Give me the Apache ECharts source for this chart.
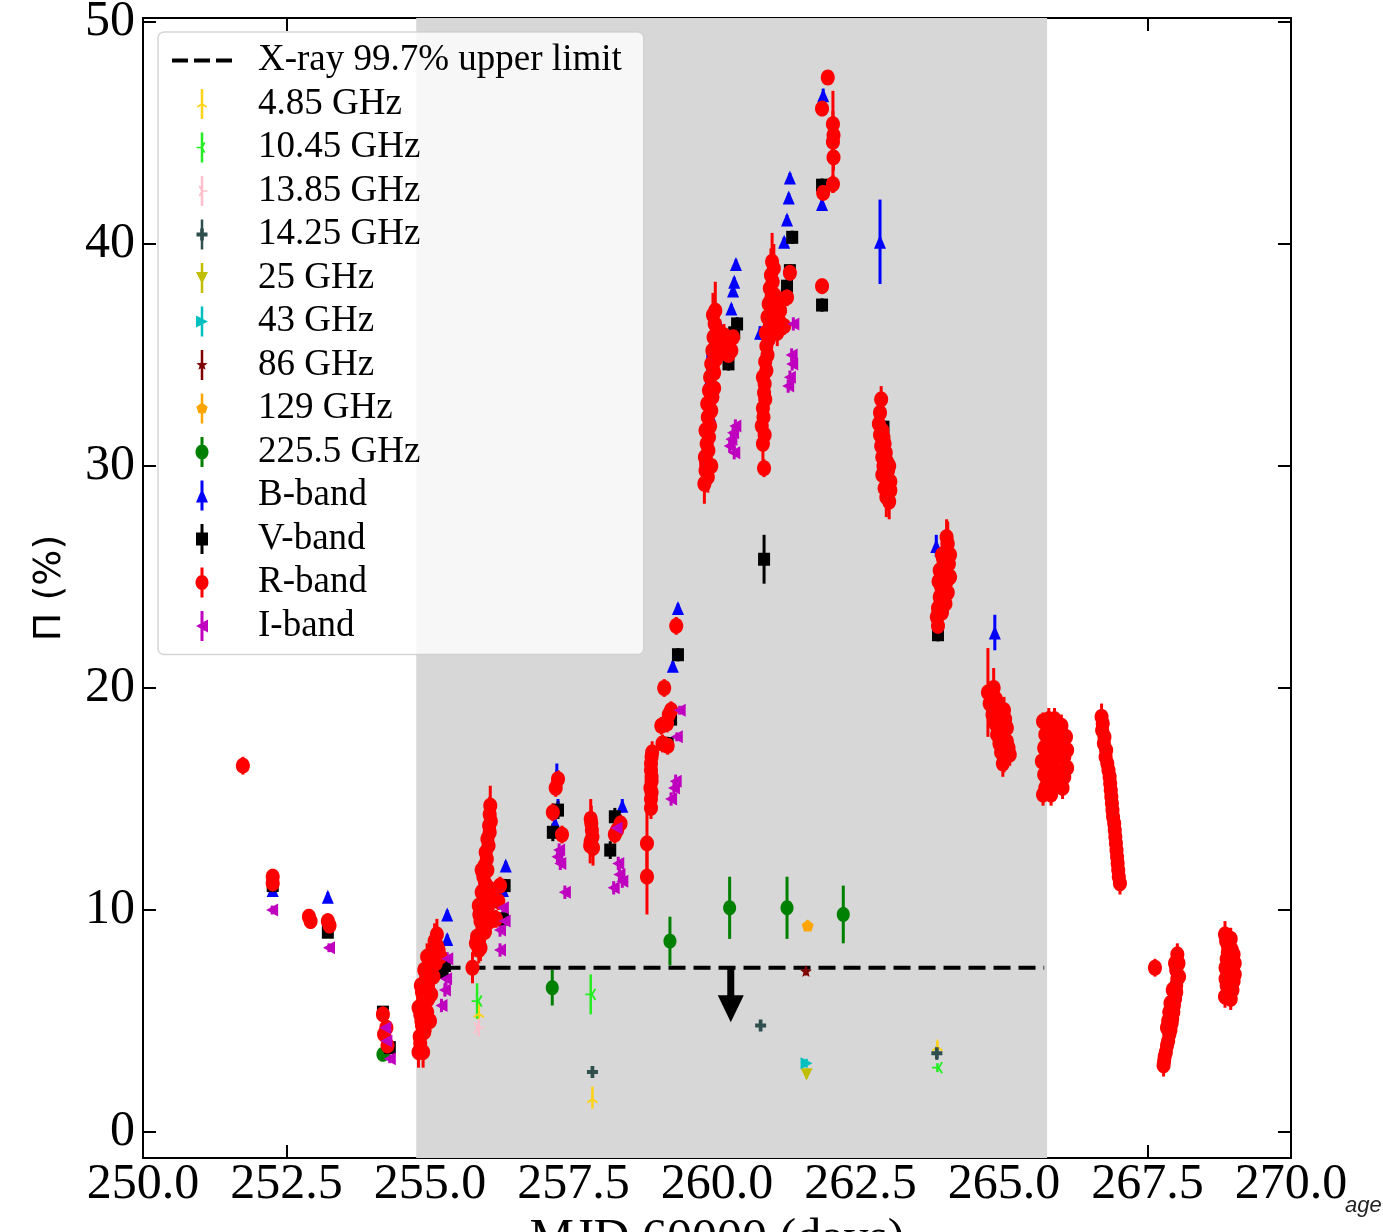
<!DOCTYPE html>
<html>
<head>
<meta charset="utf-8">
<title>Polarization degree vs MJD</title>
<script src="https://cdn.jsdelivr.net/npm/echarts@6/dist/echarts.min.js"></script>
<style>
  html, body { margin: 0; padding: 0; background: #fff; }
  #chart { width: 1383px; height: 1232px; }
  .note { position: absolute; left: 1345px; top: 1192px; font: italic 22px 'Liberation Sans', sans-serif; color: #222; }
</style>
</head>
<body>
<div id="chart"></div>
<div class="note">age</div>
<script>
// every point is [MJD - 60000, polarization (%), error]
const yTicks = [0, 10, 20, 30, 40, 50]

const xrayLimit = [[254.8, 7.4, 265.7]]      // [from, level, to]
const xrayArrow = [[260.24, 7.4, 4.95]]      // [x, from, tip]
const activeWindow = [[254.76, 265.75]]      // shaded interval

const ghz4p85 = [[255.85, 5.4, 0.4], [257.83, 1.55, 0.5], [263.84, 3.9, 0.2]]
const ghz10p45 = [[255.82, 5.9, 0.8], [257.8, 6.2, 0.9], [263.84, 2.9, 0.2]]
const ghz13p85 = [[255.85, 4.7, 0.4]]
const ghz14p25 = [[257.83, 2.7, 0.2], [260.76, 4.8, 0.2], [263.83, 3.55, 0.3]]
const ghz25 = [[261.56, 2.6, 0.2]]
const ghz43 = [[261.56, 3.1, 0.2]]
const ghz86 = [[261.55, 7.25, 0.2]]
const ghz129 = [[261.58, 9.3, 0.2]]
const ghz225p5 = [[254.18, 3.5, 0.2], [257.13, 6.5, 0.8], [259.18, 8.6, 1.1], [260.22, 10.1, 1.4], [261.22, 10.1, 1.4], [262.2, 9.8, 1.3]]

const bBand = [
  [252.26, 10.9, 0.2], [253.22, 10.6, 0.2],
  [255.3, 8.7, 0.2], [255.3, 9.8, 0.2],
  [256.32, 12.0, 0.2], [256.27, 10.9, 0.2],
  [257.21, 16.1, 0.5], [257.23, 14.6, 0.4], [257.18, 13.9, 0.3],
  [258.35, 14.7, 0.3],
  [259.32, 23.6, 0.2], [259.23, 21.0, 0.2],
  [259.84, 33.7, 1.5], [259.88, 32.3, 0.3], [260.05, 36.3, 0.2], [260.25, 37.1, 0.2], [260.28, 37.9, 0.2], [260.3, 38.3, 0.2], [260.33, 39.1, 0.2],
  [260.75, 36.0, 0.3],
  [261.17, 40.1, 0.2], [261.22, 41.1, 0.2], [261.25, 42.1, 0.2], [261.27, 43.0, 0.2],
  [261.85, 46.7, 0.3], [261.83, 41.8, 0.3],
  [262.84, 40.1, 1.9],
  [263.82, 26.4, 0.5],
  [264.84, 22.5, 0.8]
]

const vBand = [
  [252.26, 11.1, 0.2], [253.22, 9.0, 0.2], [254.18, 5.4, 0.2], [254.3, 3.8, 0.2],
  [255.26, 7.5, 0.3], [255.22, 7.2, 0.3],
  [256.3, 11.1, 0.3], [256.27, 9.6, 0.3],
  [257.23, 14.5, 0.4], [257.14, 13.5, 0.4],
  [258.22, 14.2, 0.4], [258.14, 12.7, 0.4],
  [259.32, 21.5, 0.3], [259.2, 18.6, 0.3], [259.14, 17.5, 0.3],
  [260.35, 36.4, 0.3], [260.3, 36.0, 0.3], [260.2, 34.6, 0.3],
  [260.82, 25.8, 1.1],
  [261.31, 40.3, 0.3], [261.27, 38.8, 0.3], [261.22, 38.1, 0.3],
  [261.83, 37.25, 0.3], [261.83, 42.65, 0.3],
  [262.9, 31.75, 0.3],
  [263.85, 22.4, 0.3]
]

const rBand = [
  [251.74, 16.5, 0.4],
  [252.26, 11.5, 0.3], [252.26, 11.2, 0.3],
  [252.89, 9.7, 0.3], [252.92, 9.5, 0.3],
  [253.22, 9.5, 0.3], [253.25, 9.3, 0.3],
  [254.18, 5.3, 0.3], [254.2, 4.4, 0.3], [254.24, 4.7, 0.3], [254.26, 3.9, 0.3],
  // 254.8 - 255.2
  [254.8, 3.6, 0.7], [254.88, 3.6, 0.7], [254.83, 4.0, 0.6], [254.82, 4.3, 0.6], [254.9, 4.5, 0.6], [254.86, 4.8, 0.6],
  [254.85, 5.0, 0.6], [254.83, 5.3, 0.6], [254.8, 5.6, 0.6], [254.9, 5.7, 0.6], [254.95, 5.4, 0.6], [254.88, 6.0, 0.6],
  [255.0, 5.0, 0.5], [254.97, 6.0, 0.5], [254.86, 6.3, 0.6], [254.95, 6.4, 0.6], [254.84, 6.6, 0.6], [254.92, 6.8, 0.6],
  [255.02, 6.2, 0.5], [254.9, 7.3, 0.6], [254.98, 7.3, 0.6], [255.06, 7.0, 0.6], [255.04, 7.5, 0.6], [255.0, 7.8, 0.6],
  [254.95, 7.9, 0.6], [255.1, 7.6, 0.6], [255.05, 8.2, 0.7], [255.15, 8.2, 0.6], [255.18, 7.9, 0.5], [255.12, 8.4, 0.6],
  [255.08, 8.6, 0.8], [255.12, 8.9, 0.7],
  // 255.7 - 256.3
  [255.74, 7.4, 0.7],
  [255.85, 8.2, 0.6], [255.88, 8.3, 0.6], [255.8, 8.5, 0.6], [255.82, 8.8, 0.6], [255.95, 9.0, 0.6], [255.92, 9.2, 0.6],
  [255.88, 9.5, 0.7], [256.05, 9.5, 0.6], [255.86, 9.8, 0.6], [256.0, 10.0, 0.6], [255.85, 10.2, 0.6], [255.98, 10.4, 0.6],
  [256.1, 10.5, 0.5], [255.9, 10.8, 0.7], [256.02, 11.0, 0.6], [255.96, 11.2, 0.6], [255.93, 11.5, 0.7], [255.9, 11.8, 0.5],
  [256.0, 11.8, 0.6], [255.95, 12.0, 0.6], [255.99, 12.3, 0.6], [255.97, 12.6, 0.7], [256.02, 12.9, 0.7], [256.0, 13.2, 0.7],
  [256.04, 13.5, 0.7], [256.03, 13.8, 0.7], [256.06, 14.0, 0.7], [256.04, 14.3, 0.8], [256.05, 14.7, 0.9],
  [256.15, 9.6, 0.4], [256.19, 10.4, 0.4], [256.22, 11.1, 0.4],
  // 257.2 - 258.3
  [257.23, 15.9, 0.4], [257.19, 15.5, 0.4], [257.14, 14.4, 0.4], [257.3, 13.4, 0.4],
  [257.8, 14.1, 0.9], [257.81, 13.9, 0.8], [257.82, 13.6, 0.8], [257.83, 13.3, 0.8], [257.8, 13.1, 0.7], [257.79, 12.9, 0.8],
  [257.84, 12.8, 0.8],
  [258.22, 13.4, 0.4], [258.26, 13.6, 0.4], [258.32, 13.9, 0.4],
  // 258.8 - 259.3
  [258.78, 13.0, 1.8], [258.78, 11.5, 1.7],
  [258.85, 14.6, 0.5], [258.85, 15.0, 0.5], [258.86, 15.3, 0.5], [258.84, 15.5, 0.5], [258.86, 15.8, 0.5], [258.86, 16.0, 0.5],
  [258.85, 16.3, 0.5], [258.85, 16.6, 0.5], [258.86, 16.9, 0.5], [258.87, 17.1, 0.5],
  [259.03, 18.3, 0.4], [259.05, 17.5, 0.4], [259.08, 20.0, 0.4], [259.13, 18.4, 0.4], [259.14, 17.4, 0.4], [259.16, 18.8, 0.4],
  [259.2, 19.0, 0.4], [259.29, 22.8, 0.4],
  // 259.8 - 260.3
  [259.78, 29.2, 0.9], [259.84, 29.5, 0.7], [259.8, 29.8, 0.7], [259.81, 30.1, 0.7], [259.79, 30.4, 0.8], [259.9, 30.0, 0.7],
  [259.85, 30.7, 0.7], [259.82, 31.0, 0.8], [259.86, 31.3, 0.6], [259.8, 31.6, 0.7], [259.88, 31.8, 0.7], [259.84, 32.2, 0.8],
  [259.9, 32.5, 0.7], [259.83, 32.8, 0.7], [259.92, 33.1, 0.7], [259.86, 33.4, 0.8], [259.95, 33.5, 0.6], [259.88, 34.0, 0.8],
  [259.95, 34.2, 0.8], [259.9, 34.6, 0.9], [259.98, 34.8, 0.8], [260.02, 35.0, 0.6], [259.92, 35.2, 0.9], [260.0, 35.5, 0.8],
  [259.94, 35.8, 1.0], [260.08, 35.6, 0.6], [260.05, 36.0, 0.6], [260.0, 36.1, 0.9], [260.12, 35.9, 0.5], [260.15, 35.4, 0.5],
  [260.2, 35.0, 0.5], [260.25, 35.2, 0.4], [260.28, 35.8, 0.4], [259.96, 36.4, 1.2], [259.93, 36.8, 1.0], [259.97, 37.0, 1.3],
  // 260.7 - 261.3
  [260.82, 29.9, 0.4],
  [260.8, 31.0, 0.8], [260.83, 31.4, 0.7], [260.78, 31.8, 0.8], [260.81, 32.2, 0.7], [260.8, 32.6, 0.7], [260.84, 33.0, 0.7],
  [260.82, 33.3, 0.8], [260.83, 33.7, 0.7], [260.8, 34.0, 0.7], [260.86, 34.3, 0.7], [260.84, 34.7, 0.8], [260.88, 35.0, 0.6],
  [260.86, 35.4, 0.8], [260.9, 35.7, 0.8], [260.85, 36.0, 0.9], [261.05, 36.0, 0.6], [260.92, 36.3, 0.8], [260.98, 36.5, 0.6],
  [261.08, 36.5, 0.5], [260.88, 36.7, 0.8], [261.1, 37.0, 0.5], [261.02, 37.2, 0.6], [260.9, 37.3, 0.9], [261.14, 37.5, 0.5],
  [260.95, 37.6, 0.9], [261.0, 37.7, 0.6], [260.92, 38.0, 1.0], [260.97, 38.3, 1.0], [260.94, 38.6, 1.2], [260.99, 38.9, 1.1],
  [260.96, 39.2, 1.3],
  [261.17, 36.3, 0.4], [261.22, 37.6, 0.4], [261.27, 38.7, 0.4],
  // 261.8 - 262.0
  [261.83, 38.1, 0.3], [261.85, 42.3, 0.3], [262.02, 42.7, 0.4], [262.03, 43.9, 0.6], [262.02, 44.6, 2.3], [262.03, 44.9, 0.6],
  [262.02, 45.4, 0.6], [261.83, 46.1, 0.3], [261.93, 47.5, 0.3],
  // 262.8 - 263.1
  [262.86, 33.0, 0.6], [262.84, 32.4, 0.6], [262.82, 31.9, 0.6], [262.88, 31.6, 0.6], [262.84, 31.4, 0.6], [262.9, 31.3, 0.6],
  [262.86, 30.9, 0.6], [262.92, 31.0, 0.5], [262.94, 30.6, 0.6], [262.88, 30.4, 0.6], [262.96, 30.2, 0.5], [263.0, 30.0, 0.6],
  [262.9, 30.0, 0.7], [262.98, 29.8, 0.7], [262.88, 29.6, 0.7], [262.93, 29.6, 0.7], [263.02, 29.3, 0.6], [262.96, 29.2, 0.7],
  [262.92, 29.0, 0.8], [263.02, 28.9, 0.8], [262.98, 28.8, 0.8], [262.95, 28.6, 0.9], [263.0, 28.4, 0.8],
  // 263.8 - 264.1
  [263.85, 22.8, 0.3], [263.83, 23.2, 0.4], [263.92, 23.4, 0.5], [263.85, 23.6, 0.5], [263.98, 23.8, 0.5], [263.9, 23.9, 0.5],
  [263.88, 24.1, 0.5], [263.95, 24.3, 0.5], [264.02, 24.3, 0.5], [263.9, 24.6, 0.6], [264.0, 24.8, 0.6], [263.86, 24.8, 0.5],
  [264.06, 25.0, 0.6], [263.93, 25.1, 0.6], [263.88, 25.3, 0.5], [263.98, 25.3, 0.6], [263.96, 25.6, 0.7], [264.04, 25.6, 0.6],
  [263.94, 25.8, 0.6], [263.92, 26.0, 0.6], [264.06, 26.0, 0.7], [264.0, 26.1, 0.8], [264.02, 26.5, 1.0], [264.0, 26.8, 0.8],
  // 264.7 - 265.1
  [264.72, 19.8, 2.0], [264.82, 20.0, 0.9], [264.78, 19.6, 0.7], [264.86, 19.5, 0.7], [264.75, 19.3, 0.8], [264.9, 19.2, 0.6],
  [264.84, 19.0, 0.7], [265.0, 19.0, 0.6], [264.8, 18.8, 0.8], [264.95, 18.8, 0.6], [265.02, 18.6, 0.5], [264.9, 18.6, 0.6],
  [264.85, 18.4, 0.7], [264.95, 18.2, 0.6], [265.05, 18.2, 0.6], [264.88, 17.9, 0.7], [264.92, 17.8, 0.6], [265.05, 17.6, 0.6],
  [264.92, 17.5, 0.6], [265.0, 17.4, 0.6], [265.08, 17.3, 0.5], [264.95, 17.1, 0.6], [265.1, 17.0, 0.5], [265.04, 16.9, 0.5],
  [265.0, 16.8, 0.6], [264.98, 16.6, 0.6],
  // 265.7 - 266.1
  [265.78, 18.6, 0.5], [265.88, 18.6, 0.5], [265.68, 18.5, 0.4], [265.95, 18.3, 0.5], [266.0, 18.3, 0.5], [265.8, 18.0, 0.5],
  [265.85, 18.0, 0.5], [265.72, 17.9, 0.5], [266.08, 17.8, 0.5], [266.0, 17.6, 0.5], [265.78, 17.5, 0.5], [265.85, 17.4, 0.5],
  [265.7, 17.3, 0.5], [266.1, 17.2, 0.5], [265.75, 17.0, 0.5], [265.95, 17.0, 0.5], [266.05, 16.9, 0.5], [265.9, 16.8, 0.5],
  [265.66, 16.7, 0.5], [265.82, 16.5, 0.5], [266.1, 16.4, 0.5], [265.95, 16.2, 0.5], [265.88, 16.2, 0.5], [265.7, 16.1, 0.5],
  [266.05, 16.0, 0.5], [265.92, 15.9, 0.5], [265.76, 15.8, 0.5], [265.88, 15.6, 0.5], [265.72, 15.5, 0.5], [266.02, 15.5, 0.5],
  [265.82, 15.2, 0.5], [265.68, 15.2, 0.5],
  // 266.7 - 267.0
  [266.7, 18.7, 0.6], [266.72, 18.4, 0.5], [266.71, 18.1, 0.5], [266.75, 17.8, 0.5], [266.74, 17.5, 0.5], [266.78, 17.2, 0.5],
  [266.77, 16.9, 0.5], [266.8, 16.6, 0.5], [266.82, 16.3, 0.5], [266.84, 16.0, 0.5], [266.85, 15.7, 0.5], [266.86, 15.4, 0.5],
  [266.87, 15.1, 0.5], [266.88, 14.8, 0.5], [266.89, 14.5, 0.5], [266.9, 14.2, 0.5], [266.92, 13.9, 0.5], [266.93, 13.6, 0.5],
  [266.94, 13.3, 0.5], [266.95, 13.0, 0.5], [266.96, 12.7, 0.5], [266.97, 12.4, 0.5], [266.98, 12.1, 0.5], [266.99, 11.8, 0.5],
  [267.0, 11.5, 0.5], [267.02, 11.2, 0.5],
  // 267.6 - 268.1
  [267.63, 7.4, 0.4],
  [268.02, 8.0, 0.5], [267.98, 7.6, 0.5], [268.04, 7.6, 0.5], [268.0, 7.3, 0.5], [268.05, 7.0, 0.5], [268.02, 6.9, 0.5],
  [268.0, 6.6, 0.5], [267.94, 6.4, 0.5], [268.0, 6.3, 0.5], [267.98, 6.0, 0.5], [267.9, 5.8, 0.5], [267.96, 5.7, 0.5],
  [267.95, 5.4, 0.5], [267.88, 5.4, 0.5], [267.93, 5.1, 0.5], [267.86, 5.0, 0.5], [267.92, 4.9, 0.5], [267.84, 4.7, 0.5],
  [267.9, 4.6, 0.5], [267.88, 4.4, 0.5], [267.86, 4.1, 0.5], [267.84, 3.9, 0.5], [267.82, 3.6, 0.5], [267.8, 3.4, 0.5],
  [267.79, 3.2, 0.5], [267.78, 3.0, 0.5],
  // 268.8 - 269.1
  [268.85, 8.9, 0.6], [268.95, 8.7, 0.5], [268.87, 8.6, 0.5], [268.9, 8.4, 0.5], [268.97, 8.2, 0.5], [268.9, 8.1, 0.5],
  [269.0, 8.0, 0.5], [268.88, 7.8, 0.5], [268.95, 7.6, 0.5], [269.02, 7.6, 0.5], [268.86, 7.4, 0.5], [268.92, 7.2, 0.5],
  [269.02, 7.1, 0.5], [268.9, 6.9, 0.5], [268.86, 6.9, 0.5], [269.0, 6.8, 0.5], [268.88, 6.6, 0.5], [268.98, 6.4, 0.5],
  [268.92, 6.3, 0.5], [268.85, 6.1, 0.5], [268.95, 6.0, 0.5]
]

const iBand = [
  [252.25, 10.0, 0.2], [253.24, 8.3, 0.2],
  [254.22, 4.7, 0.2], [254.24, 4.1, 0.2], [254.3, 3.3, 0.2],
  [255.3, 7.8, 0.3], [255.28, 6.9, 0.3], [255.26, 6.4, 0.3], [255.2, 5.7, 0.3],
  [256.27, 10.1, 0.3], [256.3, 9.5, 0.3], [256.22, 9.1, 0.3], [256.22, 8.2, 0.3],
  [257.25, 12.7, 0.3], [257.22, 12.4, 0.3], [257.27, 12.1, 0.3], [257.35, 10.8, 0.3],
  [258.25, 13.7, 0.3], [258.28, 12.1, 0.3], [258.3, 11.6, 0.3], [258.35, 11.3, 0.3], [258.2, 11.0, 0.3],
  [259.35, 19.0, 0.2], [259.3, 17.8, 0.2], [259.28, 15.8, 0.3], [259.25, 15.5, 0.3], [259.2, 15.0, 0.3],
  [260.32, 31.8, 0.3], [260.28, 31.5, 0.3], [260.25, 31.2, 0.3], [260.22, 30.9, 0.3], [260.3, 30.6, 0.3],
  [261.33, 36.4, 0.3], [261.3, 35.0, 0.3], [261.31, 34.6, 0.3], [261.27, 34.0, 0.3], [261.24, 33.6, 0.3]
]

// marker outlines in a unit box, y pointing down
function shapePolys(kind) {
  const polys = []
  if (kind === 'o') {
    const pts = []
    for (let k = 0; k < 32; k++) {
      const a = 2 * Math.PI * k / 32
      pts.push([Math.cos(a), Math.sin(a)])
    }
    polys.push(pts)
  } else if (kind === 's') {
    polys.push([[-1, -1], [1, -1], [1, 1], [-1, 1]])
  } else if (kind === '^') {
    polys.push([[0, -1], [1, 1], [-1, 1]])
  } else if (kind === 'v') {
    polys.push([[-1, -1], [1, -1], [0, 1]])
  } else if (kind === '<') {
    polys.push([[-1, 0], [1, -1], [1, 1]])
  } else if (kind === '>') {
    polys.push([[1, 0], [-1, 1], [-1, -1]])
  } else if (kind === 'p') {
    const pts = []
    for (let k = 0; k < 5; k++) {
      const a = (-90 + 72 * k) * Math.PI / 180
      pts.push([Math.cos(a), Math.sin(a)])
    }
    polys.push(pts)
  } else if (kind === '*') {
    const pts = []
    for (let k = 0; k < 10; k++) {
      const a = (-90 + 36 * k) * Math.PI / 180
      const r = k % 2 ? 0.42 : 1
      pts.push([r * Math.cos(a), r * Math.sin(a)])
    }
    polys.push(pts)
  } else if (kind === 'P') {
    const t = 0.34
    polys.push([[-t, -1], [t, -1], [t, -t], [1, -t], [1, t], [t, t], [t, 1], [-t, 1], [-t, t], [-1, t], [-1, -t], [-t, -t]])
  } else {
    const dirs = {
      '1': [[0, 1], [-0.866, -0.5], [0.866, -0.5]],
      '2': [[0, -1], [-0.866, 0.5], [0.866, 0.5]],
      '3': [[-1, 0], [0.5, -0.866], [0.5, 0.866]],
      '4': [[1, 0], [-0.5, -0.866], [-0.5, 0.866]]
    }[kind]
    const t = 0.14
    dirs.forEach(d => {
      const n = [-d[1] * t, d[0] * t]
      polys.push([[-n[0], -n[1]], [d[0] - n[0], d[1] - n[1]], [d[0] + n[0], d[1] + n[1]], [n[0], n[1]]])
    })
  }
  return polys
}

function polysToPath(polys, cx, cy, rx, ry) {
  return polys.map(pts => 'M' + pts.map(p => (cx + p[0] * rx).toFixed(2) + ',' + (cy + p[1] * ry).toFixed(2)).join(' L') + ' Z').join(' ')
}

// legend icon box is 85 x 30, marker column at x = 34
const ICON_W = 85, ICON_H = 30, ICON_CX = 34
const anchorPath = 'M0,0 h0.01 v0.01 h-0.01 Z M' + (ICON_W - 0.01) + ',' + (ICON_H - 0.01) + ' h0.01 v0.01 h-0.01 Z '

function legendIcon(b) {
  const bar = `M${ICON_CX - b.bar / 2},0 h${b.bar} v${ICON_H} h${-b.bar} Z `
  const s = b.legendSize || b.size
  return 'path://' + anchorPath + bar + polysToPath(shapePolys(b.marker), ICON_CX, ICON_H / 2, s[0] / 2, s[1] / 2)
}

const dashIcon = 'path://' + anchorPath + 'M4,13 h16 v4 h-16 Z M26,13 h16 v4 h-16 Z M48,13 h16 v4 h-16 Z'

const bands = [
  { name: '4.85 GHz', data: ghz4p85, color: '#ffd21a', marker: '2', size: [11, 12], bar: 2.5 },
  { name: '10.45 GHz', data: ghz10p45, color: '#22ee22', marker: '3', size: [11, 12], bar: 2.5 },
  { name: '13.85 GHz', data: ghz13p85, color: '#ffc0cb', marker: '4', size: [11, 12], bar: 2.5 },
  { name: '14.25 GHz', data: ghz14p25, color: '#2f4f4f', marker: 'P', size: [11, 12], bar: 2.5 },
  { name: '25 GHz', data: ghz25, color: '#bfbf00', marker: 'v', size: [12, 12], bar: 2.5 },
  { name: '43 GHz', data: ghz43, color: '#00bfbf', marker: '>', size: [12, 12], bar: 2.5 },
  { name: '86 GHz', data: ghz86, color: '#800000', marker: '*', size: [12, 12], bar: 2.5 },
  { name: '129 GHz', data: ghz129, color: '#ffa500', marker: 'p', size: [12, 12], bar: 2.5 },
  { name: '225.5 GHz', data: ghz225p5, color: '#008000', marker: 'o', size: [13, 15], bar: 3 },
  { name: 'B-band', data: bBand, color: '#0000ff', marker: '^', size: [12, 14], bar: 3 },
  { name: 'V-band', data: vBand, color: '#000000', marker: 's', size: [12, 13], bar: 3 },
  { name: 'R-band', data: rBand, color: '#ff0000', marker: 'o', size: [14, 16], legendSize: [13, 15], bar: 3 },
  { name: 'I-band', data: iBand, color: '#bf00bf', marker: '<', size: [12, 13], bar: 3 }
]

const chart = echarts.init(document.getElementById('chart'), null, { renderer: 'canvas' })

const series = []

// shaded interval
series.push({
  type: 'custom',
  name: 'window',
  silent: true,
  data: activeWindow.map(w => [w[0], w[1], 0]),
  encode: { x: [0, 1], y: 2 },
  renderItem: (params, api) => {
    const cs = params.coordSys
    const a = api.coord([api.value(0), 0])[0]
    const b = api.coord([api.value(1), 0])[0]
    return { type: 'rect', shape: { x: a, y: cs.y, width: b - a, height: cs.height }, style: { fill: '#d7d7d7' } }
  }
})

// x-ray upper limit (dashed)
series.push({
  type: 'custom',
  name: 'X-ray 99.7% upper limit',
  silent: true,
  itemStyle: { color: '#000' },
  data: xrayLimit,
  encode: { x: [0, 2], y: 1 },
  renderItem: (params, api) => {
    const p1 = api.coord([api.value(0), api.value(1)])
    const p2 = api.coord([api.value(2), api.value(1)])
    return { type: 'line', shape: { x1: p1[0], y1: p1[1], x2: p2[0], y2: p2[1] }, style: { stroke: '#000', lineWidth: 4, lineDash: [17, 8] } }
  }
})

// each band: error bars underneath, markers on top
bands.forEach(b => {
  series.push({
    type: 'custom',
    name: b.name,
    silent: true,
    itemStyle: { color: b.color },
    data: b.data,
    encode: { x: 0, y: 1 },
    renderItem: (params, api) => {
      const x = api.value(0), y = api.value(1), e = api.value(2)
      const p1 = api.coord([x, y + e])
      const p2 = api.coord([x, y - e])
      return { type: 'line', shape: { x1: p1[0], y1: p1[1], x2: p2[0], y2: p2[1] }, style: { stroke: b.color, lineWidth: b.bar } }
    }
  })
  series.push({
    type: 'scatter',
    name: b.name,
    silent: true,
    data: b.data,
    symbol: 'path://' + polysToPath(shapePolys(b.marker), 0, 0, 10, 10),
    symbolSize: b.size,
    itemStyle: { color: b.color, opacity: 1 }
  })
})

// downward arrow under the upper limit
series.push({
  type: 'custom',
  name: 'arrow',
  silent: true,
  data: xrayArrow,
  encode: { x: 0, y: [1, 2] },
  renderItem: (params, api) => {
    const top = api.coord([api.value(0), api.value(1)])
    const tip = api.coord([api.value(0), api.value(2)])
    const baseY = tip[1] - 27
    return {
      type: 'group',
      children: [
        { type: 'rect', shape: { x: top[0] - 3.5, y: top[1], width: 7, height: baseY - top[1] + 1 }, style: { fill: '#000' } },
        { type: 'polygon', shape: { points: [[top[0] - 13, baseY], [top[0] + 13, baseY], [tip[0], tip[1]]] }, style: { fill: '#000' } }
      ]
    }
  }
})

const axisColor = '#000'
const tickFont = { fontFamily: 'Liberation Serif', fontSize: 50, color: '#000' }
const frameLine = { show: true, onZero: false, lineStyle: { color: axisColor, width: 2 } }
const frameTick = { show: true, inside: true, length: 13, lineStyle: { color: axisColor, width: 2 } }

chart.setOption({
  animation: false,
  backgroundColor: '#fff',
  grid: { left: 143, right: 92, top: 18, bottom: 74, containLabel: false, outerBoundsMode: 'none' },
  legend: {
    orient: 'vertical',
    left: 158,
    top: 32,
    padding: [10, 22, 10, 10],
    itemWidth: ICON_W,
    itemHeight: ICON_H,
    itemGap: 6.5,
    symbolKeepAspect: true,
    selectedMode: false,
    backgroundColor: 'rgba(255,255,255,0.8)',
    borderColor: 'rgba(204,204,204,0.8)',
    borderWidth: 1.5,
    borderRadius: 6,
    textStyle: { fontFamily: 'Liberation Serif', fontSize: 37, color: '#000', lineHeight: 30 },
    data: [{ name: 'X-ray 99.7% upper limit', icon: dashIcon, itemStyle: { color: '#000' } }]
      .concat(bands.map(b => ({ name: b.name, icon: legendIcon(b), itemStyle: { color: b.color, borderWidth: 0 } })))
  },
  xAxis: [
    {
      type: 'value', min: 250, max: 270, interval: 2.5, position: 'bottom',
      axisLine: frameLine,
      axisTick: frameTick,
      axisLabel: Object.assign({ margin: 2, formatter: v => v.toFixed(1), showMinLabel: true, showMaxLabel: true, hideOverlap: false }, tickFont),
      splitLine: { show: false },
      name: 'MJD 60000 (days)', nameLocation: 'middle', nameGap: 40,
      nameTextStyle: { fontFamily: 'Liberation Serif', fontSize: 50, color: '#000' }
    },
    {
      type: 'value', min: 250, max: 270, interval: 2.5, position: 'top',
      axisLine: frameLine,
      axisTick: frameTick,
      axisLabel: { show: false },
      splitLine: { show: false }
    }
  ],
  yAxis: [
    {
      type: 'value', min: -1.17, max: 50.18, position: 'left',
      axisLine: frameLine,
      axisTick: Object.assign({ customValues: yTicks }, frameTick),
      axisLabel: Object.assign({ margin: 8, customValues: yTicks }, tickFont),
      splitLine: { show: false },
      name: 'Π (%)', nameLocation: 'middle', nameGap: 74, nameRotate: 90,
      nameTextStyle: { fontFamily: 'DejaVu Sans', fontSize: 38, color: '#000' }
    },
    {
      type: 'value', min: -1.17, max: 50.18, position: 'right',
      axisLine: frameLine,
      axisTick: Object.assign({ customValues: yTicks }, frameTick),
      axisLabel: { show: false },
      splitLine: { show: false }
    }
  ],
  series: series
})
</script>
</body>
</html>
